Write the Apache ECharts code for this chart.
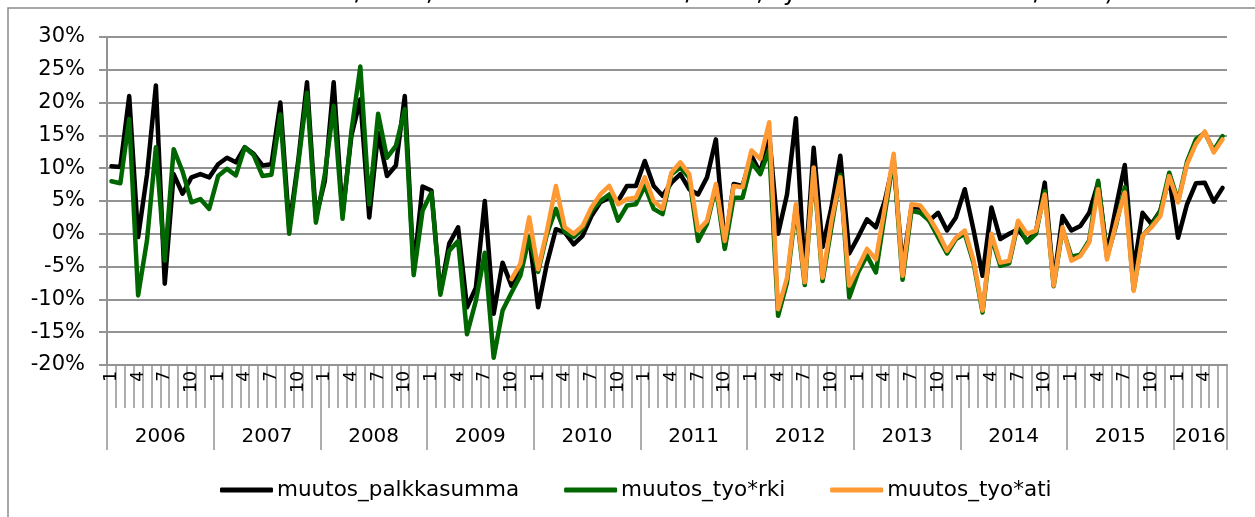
<!DOCTYPE html>
<html>
<head>
<meta charset="utf-8">
<script src="https://cdn.jsdelivr.net/npm/echarts@6/dist/echarts.min.js"></script>
<style>
html,body{margin:0;padding:0;background:#fff;}
#main{width:1255px;height:517px;}
</style>
</head>
<body>
<div id="main"></div>
<script>
// vuodet ja kuukaudet (2006/1 - 2016/6)
const years = ['2006','2007','2008','2009','2010','2011','2012','2013','2014','2015','2016'];
const monthLabels = ['1','2','3','4','5','6','7','8','9','10','11','12'];
const lastYearMonths = 6;
const yTicks = { min: -20, max: 30, step: 5 };

// muutos %, kuukausittain
const palkkasumma = [
  10.3, 10.2, 21.0, -0.5, 9.0, 22.6, -7.6, 9.1, 6.1, 8.6, 9.1, 8.6,
  10.6, 11.6, 10.9, 13.2, 12.2, 10.4, 10.6, 20.0, 1.0, 11.0, 23.1, 2.5,
  8.0, 23.1, 3.0, 15.0, 20.5, 2.5, 15.4, 8.8, 10.4, 21.0, -5.5, 7.2,
  6.6, -9.0, -1.5, 1.0, -11.2, -8.2, 5.0, -12.2, -4.4, -7.9, -5.6, -0.5,
  -11.2, -4.5, 0.7, 0.2, -1.6, -0.3, 2.7, 4.8, 5.5, 5.0, 7.3, 7.3,
  11.1, 7.3, 5.8, 7.8, 9.1, 6.8, 6.0, 8.6, 14.4, -2.0, 7.6, 7.3,
  11.9, 9.3, 15.0, 0.0, 6.0, 17.6, -6.5, 13.1, -2.0, 4.0, 11.9, -3.0,
  -0.5, 2.2, 1.0, 5.0, 11.0, -5.0, 4.0, 4.0, 2.0, 3.2, 0.5, 2.5,
  6.8, 0.5, -6.4, 4.0, -0.8, 0.0, 0.7, -1.1, 0.2, 7.8, -7.4, 2.7,
  0.5, 1.2, 3.2, 7.8, -3.0, 4.0, 10.5, -5.6, 3.2, 1.5, 3.5, 8.5,
  -0.6, 4.5, 7.7, 7.8, 4.9, 7.0
];
const tyovoimaRki = [
  8.0, 7.7, 17.5, -9.4, -1.0, 13.2, -4.1, 12.9, 9.5, 4.8, 5.3, 3.8,
  8.8, 9.9, 8.9, 13.2, 12.0, 8.8, 9.0, 18.2, 0.0, 10.5, 21.5, 1.7,
  9.0, 19.5, 2.3, 15.7, 25.5, 4.5, 18.3, 11.6, 13.4, 19.0, -6.3, 3.5,
  6.3, -9.3, -2.6, -1.1, -15.3, -10.2, -2.9, -18.9, -11.7, -9.0, -6.4, -0.5,
  -5.8, 0.0, 3.8, 0.3, -0.5, 0.8, 3.5, 5.0, 6.0, 2.0, 4.3, 4.5,
  7.3, 3.8, 3.0, 9.1, 10.1, 8.6, -1.1, 1.5, 7.2, -2.3, 5.5, 5.5,
  10.9, 9.1, 12.9, -12.5, -7.4, 4.0, -7.8, 10.0, -7.2, 1.0, 9.0, -9.7,
  -5.9, -3.3, -5.9, 3.0, 11.5, -7.0, 3.5, 3.2, 2.0, -0.5, -3.0, -0.8,
  0.0, -4.5, -12.0, -0.5, -4.9, -4.5, 1.7, -1.3, 0.0, 6.5, -8.0, 0.8,
  -3.5, -3.2, -1.0, 8.1, -3.5, 1.2, 7.1, -8.5, -0.3, 1.2, 3.5, 9.3,
  5.0, 11.0, 14.4, 15.4, 12.7, 14.9
];
const tyovoimaAti = [
  null, null, null, null, null, null, null, null, null, null, null, null,
  null, null, null, null, null, null, null, null, null, null, null, null,
  null, null, null, null, null, null, null, null, null, null, null, null,
  null, null, null, null, null, null, null, null, null, -6.9, -4.6, 2.5,
  -5.4, 0.5, 7.3, 1.0, 0.0, 1.2, 4.0, 6.0, 7.3, 4.5, 5.3, 5.5,
  8.6, 5.0, 3.8, 9.3, 10.9, 9.1, 0.5, 2.0, 7.6, -1.1, 7.3, 7.1,
  12.7, 11.4, 17.0, -11.5, -6.7, 4.5, -7.4, 10.1, -6.7, 2.0, 8.6, -7.9,
  -5.1, -2.3, -3.9, 4.0, 12.2, -6.4, 4.5, 4.3, 2.5, 0.2, -2.6, -0.6,
  0.5, -4.1, -11.7, 0.0, -4.4, -4.1, 2.0, 0.0, 0.5, 6.0, -7.9, 1.0,
  -4.1, -3.4, -1.3, 6.8, -3.9, 1.5, 6.3, -8.7, -0.3, 1.0, 2.7, 8.8,
  4.8, 10.6, 13.7, 15.6, 12.4, 14.4
];

// kategoriat: kuukausi + vuosi
const months = [];
const monthYear = [];
years.forEach(function (y, yi) {
  const n = yi === years.length - 1 ? lastYearMonths : 12;
  for (let m = 0; m < n; m++) {
    months.push(monthLabels[m]);
    monthYear.push(y);
  }
});

const font = 'DejaVu Sans';
const gridGray = '#939393';

const myChart = echarts.init(document.getElementById('main'));
const option = {
  animation: false,
  textStyle: { fontFamily: font, color: '#000' },
  graphic: [
    {
      type: 'rect',
      shape: { x: 8, y: 8, width: 1400, height: 700 },
      style: { fill: 'none', stroke: '#8a8a8a', lineWidth: 1.5 },
      silent: true
    },
    {
      type: 'text',
      left: 0, top: -19,
      style: {
        text: 'Rakennuskustannusindeksi 3/2016, Ansiotasoindeksi I-II/2016, Työvoimatutkimus I-II/2016)',
        font: '24.5px "DejaVu Sans"',
        fill: '#000'
      },
      silent: true
    }
  ],
  grid: { left: 107, right: 28, top: 37, bottom: 152 },
  legend: {
    top: 474,
    left: 215,
    icon: 'roundRect',
    itemWidth: 53,
    itemHeight: 5,
    itemGap: 45,
    textStyle: { fontFamily: font, fontSize: 21.5, color: '#000', padding: [0, 0, 0, -1] },
    data: ['muutos_palkkasumma', 'muutos_tyo*rki', 'muutos_tyo*ati']
  },
  xAxis: [
    {
      type: 'category',
      data: months,
      boundaryGap: true,
      axisLine: { show: true, onZero: false, lineStyle: { color: gridGray, width: 2 } },
      axisTick: { show: true, interval: 0, length: 43, lineStyle: { color: gridGray, width: 1.5 } },
      axisLabel: {
        interval: 2,
        rotate: 90,
        margin: 6,
        fontSize: 17,
        color: '#000',
        fontFamily: font
      },
      splitLine: { show: false }
    },
    {
      type: 'category',
      data: monthYear,
      position: 'bottom',
      boundaryGap: true,
      axisLine: { show: false, onZero: false },
      axisTick: {
        show: true,
        interval: function (i) { return i % 12 === 0; },
        length: 85,
        lineStyle: { color: gridGray, width: 1.5 }
      },
      axisLabel: {
        interval: function (i) { return i % 12 === 6 || i === 123; },
        margin: 62,
        formatter: function (v) { return '{y|' + v + '}'; },
        rich: { y: { fontSize: 20, fontFamily: font, color: '#000', padding: [0, 9, 0, 0] } }
      },
      splitLine: { show: false }
    }
  ],
  yAxis: {
    type: 'value',
    min: yTicks.min,
    max: yTicks.max,
    interval: yTicks.step,
    axisLine: { show: true, lineStyle: { color: gridGray, width: 2 } },
    axisTick: { show: true, length: 8, lineStyle: { color: gridGray, width: 2 } },
    axisLabel: {
      margin: 22,
      fontSize: 21,
      color: '#000',
      fontFamily: font,
      formatter: '{value}%'
    },
    splitLine: { show: true, lineStyle: { color: gridGray, width: 2 } }
  },
  series: [
    {
      name: 'muutos_palkkasumma',
      type: 'line',
      data: palkkasumma,
      showSymbol: false,
      symbol: 'none',
      itemStyle: { color: '#000000' },
      lineStyle: { color: '#000000', width: 4.5, join: 'round', cap: 'round' }
    },
    {
      name: 'muutos_tyo*rki',
      type: 'line',
      data: tyovoimaRki,
      showSymbol: false,
      symbol: 'none',
      itemStyle: { color: '#006600' },
      lineStyle: { color: '#006600', width: 4.5, join: 'round', cap: 'round' }
    },
    {
      name: 'muutos_tyo*ati',
      type: 'line',
      data: tyovoimaAti,
      showSymbol: false,
      symbol: 'none',
      itemStyle: { color: '#FF9933' },
      lineStyle: { color: '#FF9933', width: 4.5, join: 'round', cap: 'round' }
    }
  ]
};
myChart.setOption(option);
window.addEventListener('resize', function () {
  myChart.resize();
});
</script>
</body>
</html>
